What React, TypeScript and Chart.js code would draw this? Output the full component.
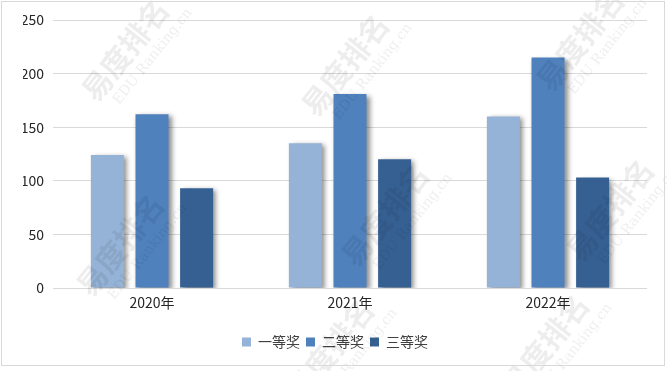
import React, { useEffect, useRef } from "react";
import { Chart, registerables } from "chart.js";

Chart.register(...registerables);

const categories = ["2020年", "2021年", "2022年"];
const seriesNames = ["一等奖", "二等奖", "三等奖"];
const firstPrize = [124, 135, 160];
const secondPrize = [162, 181, 215];
const thirdPrize = [93, 120, 103];
const yTicks = [0, 50, 100, 150, 200, 250];
const seriesColors = ["#95B3D7", "#4F81BD", "#366092"];
const watermarkSpots = [
  [125, 50], [345, 65], [580, 40],
  [120, 245], [385, 215], [610, 210],
  [330, 350], [545, 345],
];

const FONT = "'Noto Sans CJK SC', 'Noto Sans', sans-serif";

const shadowPlugin = {
  id: "barShadow",
  beforeDatasetsDraw(chart: any) {
    const ctx = chart.ctx;
    ctx.save();
    ctx.shadowColor = "rgba(0,0,0,0.45)";
    ctx.shadowBlur = 5;
    ctx.shadowOffsetX = 3;
    ctx.shadowOffsetY = 2;
  },
  afterDatasetsDraw(chart: any) {
    chart.ctx.restore();
  },
};

const decorPlugin = {
  id: "decor",
  afterDraw(chart: any) {
    const ctx = chart.ctx;
    ctx.save();
    ctx.fillStyle = "rgba(0,0,0,0.07)";
    for (const [x, y] of watermarkSpots) {
      ctx.save();
      ctx.translate(x, y);
      ctx.rotate(-0.9);
      ctx.font = `bold 30px ${FONT}`;
      ctx.textAlign = "center";
      ctx.textBaseline = "middle";
      ctx.fillText("易度排名", 0, 0);
      ctx.font = `14px 'DejaVu Serif', serif`;
      ctx.fillText("EDU Ranking.cn", 12, 26);
      ctx.restore();
    }
    ctx.restore();
    ctx.save();
    ctx.strokeStyle = "#d9d9d9";
    ctx.lineWidth = 1;
    ctx.strokeRect(1.5, 1.5, 663, 364);
    ctx.restore();
  },
};

export default function App() {
  const ref = useRef<HTMLCanvasElement | null>(null);
  useEffect(() => {
    document.body.style.margin = "0";
    const canvas = ref.current!;
    const chart = new Chart(canvas, {
      type: "bar",
      data: {
        labels: categories,
        datasets: [firstPrize, secondPrize, thirdPrize].map((d, i) => ({
          label: seriesNames[i],
          data: d,
          backgroundColor: seriesColors[i],
          borderWidth: 0,
          categoryPercentage: 0.676,
          barPercentage: 0.74,
        })),
      },
      options: {
        animation: false,
        responsive: false,
        maintainAspectRatio: false,
        layout: { padding: { left: 23, right: 20, top: 20, bottom: 12 } },
        scales: {
          x: {
            grid: { display: false, drawTicks: false },
            border: { display: false },
            afterFit: (scale: any) => {
              scale.height = 41;
            },
            ticks: { color: "#262626", font: { family: FONT, size: 14 }, padding: 6 },
          },
          y: {
            min: 0,
            max: 250,
            afterBuildTicks: (scale: any) => {
              scale.ticks = yTicks.map((v) => ({ value: v }));
            },
            afterFit: (scale: any) => {
              scale.width = 30;
            },
            grid: { color: "#d9d9d9", drawTicks: false },
            border: { display: false },
            ticks: { color: "#262626", font: { family: FONT, size: 14 }, padding: 9 },
          },
        },
        plugins: {
          legend: {
            position: "bottom",
            labels: {
              boxWidth: 9,
              boxHeight: 9,
              padding: 6,
              color: "#404040",
              font: { family: FONT, size: 14 },
            },
          },
          tooltip: { enabled: false },
        },
      },
      plugins: [shadowPlugin, decorPlugin],
    } as any);
    return () => chart.destroy();
  }, []);
  return (
    <div style={{ position: "fixed", left: 0, top: 0, width: 667, height: 371, background: "#fff" }}>
      <canvas ref={ref} width={667} height={371} style={{ display: "block" }} />
    </div>
  );
}
